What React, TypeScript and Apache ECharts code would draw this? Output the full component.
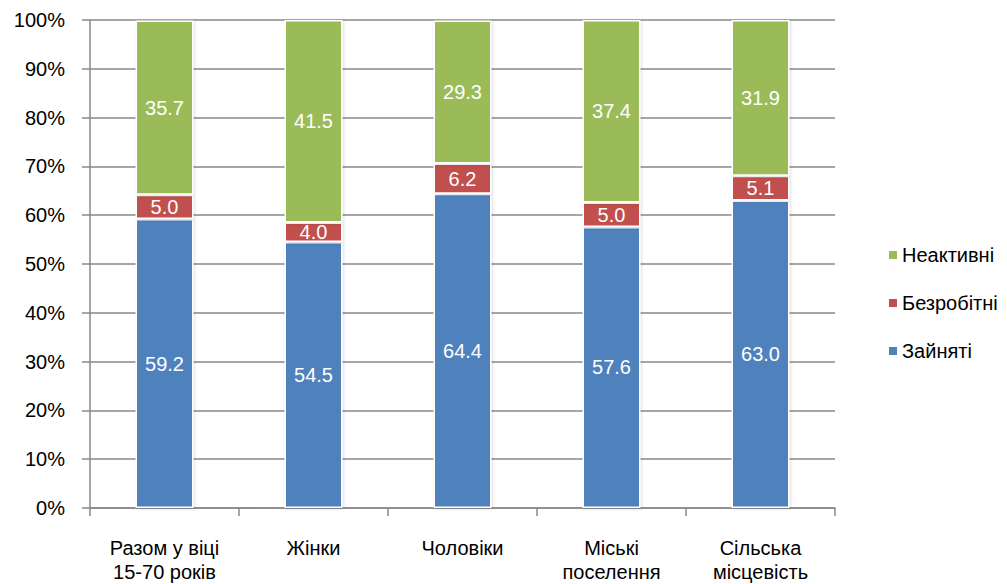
import React, { useEffect, useRef } from "react";
import * as echarts from "echarts";

const categories = ["Разом у віці\n15-70 років", "Жінки", "Чоловіки", "Міські\nпоселення", "Сільська\nмісцевість"];
const employed = [59.2, 54.5, 64.4, 57.6, 63.0];
const unemployed = [5.0, 4.0, 6.2, 5.0, 5.1];
const inactive = [35.7, 41.5, 29.3, 37.4, 31.9];
const seriesNames = ["Зайняті", "Безробітні", "Неактивні"];
const colors = ["#4F81BD", "#C0504D", "#9BBB59"];

export default function App() {
  const ref = useRef<HTMLDivElement>(null);
  useEffect(() => {
    if (!ref.current) return;
    const chart = echarts.init(ref.current, null, { renderer: "svg" });
    const font = "'Liberation Sans', Arial, sans-serif";
    const mk = (name: string, data: number[], color: string) => ({
      name,
      type: "bar",
      stack: "total",
      data,
      barWidth: 58,
      itemStyle: {
        color,
        borderColor: "#fff",
        borderWidth: 1.5,
        shadowColor: "rgba(0,0,0,0.15)",
        shadowBlur: 3,
        shadowOffsetX: 1,
        shadowOffsetY: 1,
      },
      label: {
        show: true,
        position: "inside",
        color: "#fff",
        fontSize: 20,
        fontFamily: font,
        formatter: (p: any) => p.value.toFixed(1),
      },
    });
    chart.setOption({
      animation: false,
      grid: { left: 90, right: 172, top: 20, bottom: 76, containLabel: false },
      legend: {
        orient: "vertical",
        left: 882,
        top: 239,
        data: ["Неактивні", "Безробітні", "Зайняті"],
        icon: "rect",
        itemWidth: 10,
        itemHeight: 10,
        itemGap: 26,
        textStyle: { fontSize: 20, fontFamily: font, color: "#000", lineHeight: 22, padding: [0, 0, 0, -1] },
      },
      xAxis: {
        type: "category",
        data: categories,
        axisLine: { lineStyle: { color: "#888", width: 1.5 } },
        axisTick: { show: true, length: 8, lineStyle: { color: "#888", width: 1.5 } },
        axisLabel: { interval: 0, fontSize: 20, fontFamily: font, color: "#000", lineHeight: 24, margin: 28 },
      },
      yAxis: {
        type: "value",
        min: 0,
        max: 100,
        interval: 10,
        axisLine: { show: true, lineStyle: { color: "#888", width: 1.5 } },
        axisTick: { show: true, length: 8, lineStyle: { color: "#888", width: 1.5 } },
        splitLine: { lineStyle: { color: "#888", width: 1.5 } },
        axisLabel: { fontSize: 20, fontFamily: font, color: "#000", margin: 25, formatter: "{value}%" },
      },
      series: [
        mk(seriesNames[0], employed, colors[0]),
        mk(seriesNames[1], unemployed, colors[1]),
        mk(seriesNames[2], inactive, colors[2]),
      ],
    });
    return () => chart.dispose();
  }, []);
  return <div ref={ref} style={{ position: "absolute", left: 0, top: 0, width: 1007, height: 584 }} />;
}
